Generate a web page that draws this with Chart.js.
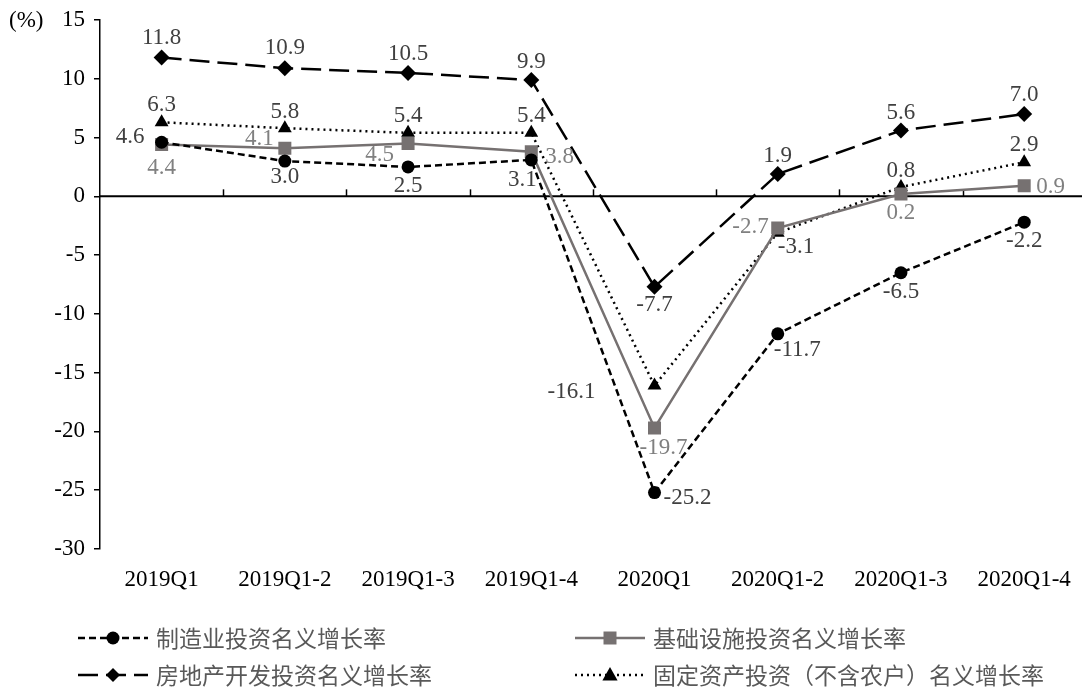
<!DOCTYPE html>
<html><head><meta charset="utf-8">
<script src="https://cdn.jsdelivr.net/npm/chart.js@4"></script>
<style>
html,body{margin:0;padding:0;background:#fff;overflow:hidden;}
#wrap{width:1095px;height:690px;position:relative;}
</style></head>
<body><div id="wrap"><canvas id="c"></canvas></div>
<script>
const categories = ['2019Q1','2019Q1-2','2019Q1-3','2019Q1-4','2020Q1','2020Q1-2','2020Q1-3','2020Q1-4'];
const manufacturing = [4.6, 3.0, 2.5, 3.1, -25.2, -11.7, -6.5, -2.2];
const infrastructure = [4.4, 4.1, 4.5, 3.8, -19.7, -2.7, 0.2, 0.9];
const realEstate = [11.8, 10.9, 10.5, 9.9, -7.7, 1.9, 5.6, 7.0];
const fixedAsset = [6.3, 5.8, 5.4, 5.4, -16.1, -3.1, 0.8, 2.9];
const seriesNames = ['制造业投资名义增长率','基础设施投资名义增长率','房地产开发投资名义增长率','固定资产投资（不含农户）名义增长率'];
const yTicks = [15, 10, 5, 0, -5, -10, -15, -20, -25, -30];

const GRAY = '#767171';
const SERIF = '"Liberation Serif", "Times New Roman", serif';
const CJK = '"Noto Sans CJK SC", sans-serif';
const FS = 23;

// label placement: [dx, dy, align]
const labelPos = [
  [[-17,-5,'right'],[0,16,'center'],[0,19,'center'],[-9,20,'center'],[9,5,'left'],[-4,16,'left'],[0,19,'center'],[0,19,'center']],
  [[0,23,'center'],[-11,-9,'right'],[-14,12,'right'],[14,5,'left'],[9,20,'center'],[-9,-1,'right'],[0,19,'center'],[12,1,'left']],
  [[0,-20,'center'],[0,-20,'center'],[0,-19,'center'],[0,-18,'center'],[0,18,'center'],[0,-18,'center'],[0,-18,'center'],[0,-19,'center']],
  [[0,-17,'center'],[0,-16,'center'],[0,-17,'center'],[0,-17,'center'],[-59,6,'right'],[0,14,'left'],[0,-16,'center'],[0,-17,'center']]
];
const labelColors = ['#404040','#808080','#404040','#404040'];

function drawMarker(ctx, style, x, y, r, color){
  ctx.save(); ctx.fillStyle=color; ctx.strokeStyle=color; ctx.setLineDash([]); ctx.beginPath();
  if(style==='circle'){ ctx.arc(x,y,r,0,Math.PI*2); }
  else if(style==='rect'){ ctx.rect(x-r,y-r,2*r,2*r); }
  else if(style==='rectRot'){ ctx.moveTo(x,y-r); ctx.lineTo(x+r,y); ctx.lineTo(x,y+r); ctx.lineTo(x-r,y); ctx.closePath(); }
  else if(style==='triangle'){ ctx.moveTo(x,y-r); ctx.lineTo(x+r*0.95,y+r*0.7); ctx.lineTo(x-r*0.95,y+r*0.7); ctx.closePath(); }
  ctx.fill(); ctx.restore();
}

const decorPlugin = {
  id:'decor',
  beforeDatasetsDraw(chart){
    const ctx = chart.ctx, y = chart.scales.y;
    const y0 = y.getPixelForValue(0);
    ctx.save();
    ctx.strokeStyle='#000'; ctx.lineWidth=2; ctx.setLineDash([]);
    ctx.beginPath(); ctx.moveTo(chart.chartArea.left, y0); ctx.lineTo(chart.chartArea.right, y0); ctx.stroke();
    const n = categories.length;
    const w = (chart.chartArea.right - chart.chartArea.left)/n;
    ctx.lineWidth=1.5;
    for(let i=1;i<n;i++){
      const px = Math.round(chart.chartArea.left + i*w)+0.5;
      ctx.beginPath(); ctx.moveTo(px, y0); ctx.lineTo(px, y0-7); ctx.stroke();
    }
    ctx.fillStyle='#000'; ctx.font=FS+'px '+SERIF; ctx.textAlign='left'; ctx.textBaseline='middle';
    ctx.fillText('(%)', 9, y.getPixelForValue(15)+1);
    ctx.restore();
  },
  afterDatasetsDraw(chart){
    const ctx = chart.ctx;
    ctx.save();
    ctx.font=FS+'px '+SERIF; ctx.textBaseline='middle';
    chart.data.datasets.forEach((ds, di)=>{
      const meta = chart.getDatasetMeta(di);
      meta.data.forEach((pt, i)=>{
        const p = labelPos[di][i];
        ctx.fillStyle = labelColors[di];
        ctx.textAlign = p[2];
        ctx.fillText(ds.data[i].toFixed(1), pt.x + p[0], pt.y + p[1]);
      });
    });
    const items = [
      {x:78, y:638, di:0},
      {x:575, y:638, di:1},
      {x:78, y:675, di:2},
      {x:575, y:675, di:3}
    ];
    items.forEach(it=>{
      const ds = chart.data.datasets[it.di];
      ctx.save();
      ctx.strokeStyle = ds.borderColor; ctx.lineWidth = ds.borderWidth;
      ctx.setLineDash(ds.borderDash || []);
      ctx.beginPath(); ctx.moveTo(it.x, it.y); ctx.lineTo(it.x+70, it.y); ctx.stroke();
      ctx.restore();
      drawMarker(ctx, ds.pointStyle, it.x+35, it.y, ds.legendR, ds.pointBackgroundColor);
      ctx.fillStyle='#595959'; ctx.font=FS+'px '+CJK; ctx.textAlign='left'; ctx.textBaseline='middle';
      ctx.fillText(seriesNames[it.di], it.x+78, it.y);
    });
    ctx.restore();
  }
};

new Chart(document.getElementById('c'), {
  type:'line',
  data:{
    labels: categories,
    datasets:[
      {label:seriesNames[0], data:manufacturing, borderColor:'#000', backgroundColor:'#000', pointBackgroundColor:'#000', pointBorderColor:'#000',
       borderWidth:2.5, borderDash:[7,4], pointStyle:'circle', pointRadius:6.5, pointBorderWidth:0, legendR:6.5, tension:0},
      {label:seriesNames[1], data:infrastructure, borderColor:GRAY, backgroundColor:GRAY, pointBackgroundColor:GRAY, pointBorderColor:GRAY,
       borderWidth:2.5, borderDash:[], pointStyle:'rect', pointRadius:9.2, pointBorderWidth:0, legendR:6.5, tension:0},
      {label:seriesNames[2], data:realEstate, borderColor:'#000', backgroundColor:'#000', pointBackgroundColor:'#000', pointBorderColor:'#000',
       borderWidth:2.5, borderDash:[20,8], pointStyle:'rectRot', pointRadius:8, pointBorderWidth:0, legendR:7, tension:0},
      {label:seriesNames[3], data:fixedAsset, borderColor:'#000', backgroundColor:'#000', pointBackgroundColor:'#000', pointBorderColor:'#000',
       borderWidth:2.5, borderDash:[2,4], pointStyle:'triangle', pointRadius:8, pointBorderWidth:0, legendR:8, tension:0}
    ]
  },
  options:{
    responsive:true, maintainAspectRatio:false, animation:false,
    layout:{padding:{left:0, right:0, top:20, bottom:91}},
    plugins:{legend:{display:false}, tooltip:{enabled:false}},
    scales:{
      x:{
        offset:true,
        grid:{display:false, drawTicks:false, offset:true}, border:{display:false},
        ticks:{color:'#000', font:{family:SERIF, size:FS}, padding:17, maxRotation:0, autoSkip:false},
        afterFit(s){ s.height = 50; s.paddingLeft = 0; s.paddingRight = 0; }
      },
      y:{
        min:-30, max:15,
        afterBuildTicks(s){ s.ticks = yTicks.map(v=>({value:v})); },
        grid:{drawOnChartArea:false, drawTicks:true, tickLength:6, color:'#000', lineWidth:1.5},
        border:{display:true, color:'#000', width:1.5},
        ticks:{color:'#000', font:{family:SERIF, size:FS}, padding:9},
        afterFit(s){ s.width = 100; s.paddingTop = 0; s.paddingBottom = 0; }
      }
    }
  },
  plugins:[decorPlugin]
});
</script></body></html>
